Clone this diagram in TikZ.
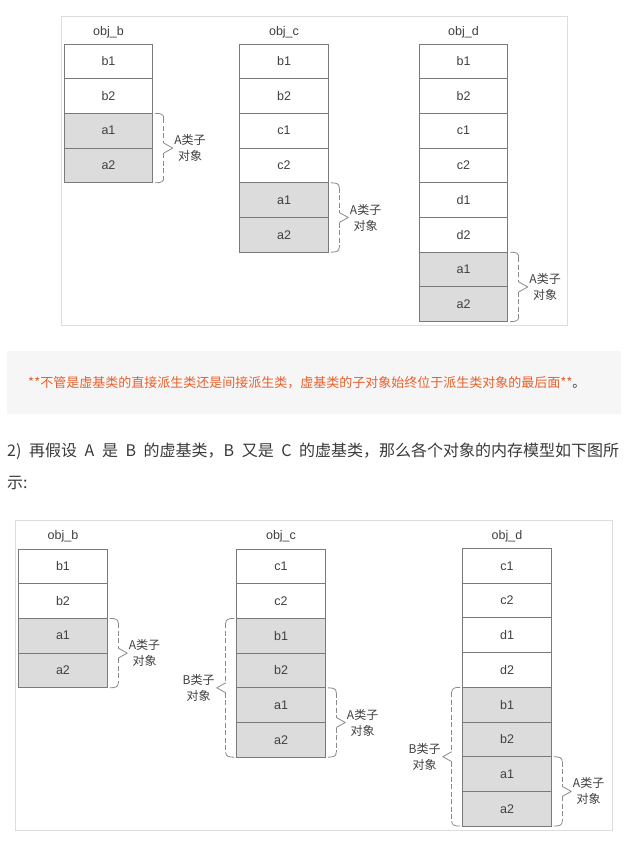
\documentclass[tikz,border=0pt]{standalone}
\usepackage{fontspec}
\setmainfont{Liberation Sans}
\newfontfamily\cjk{Noto Sans CJK SC}
\usetikzlibrary{calc}
\definecolor{framegray}{HTML}{DDDDDD}
\definecolor{cellborder}{HTML}{7A7A7A}
\definecolor{cellgray}{HTML}{DCDCDC}
\definecolor{celltext}{HTML}{404040}
\definecolor{bracegray}{HTML}{8A8A8A}
\definecolor{bannerbg}{HTML}{F6F6F6}
\definecolor{bannertext}{HTML}{E8602C}
\definecolor{paratext}{HTML}{3A3A3A}

\newcommand\objcol[4]{% #1 prefix, #2 x centre, #3 top y, #4 list text/fill
  \foreach \t/\f [count=\i from 0] in {#4}
    \node[cell, fill=\f] (#1\t) at (#2, {#3+17.35+\i*34.7}) {\t};}

\newcommand\bracer[4]{% right brace: #1 top node, #2 bottom node, #3 label name, #4 letter
  \coordinate (T) at ($(#1.north east)+(2.5,0)$);
  \coordinate (B) at ($(#2.south east)+(2.5,0)$);
  \coordinate (M) at ($(T)!0.5!(B)$);
  \draw[bracesolid] (T) .. controls ($(T)+(6,0)$) and ($(T)+(8.5,1)$) .. ($(T)+(8.5,5)$);
  \draw[bracedash] ($(T)+(8.5,5)$) -- ($(M)+(8.5,-5)$);
  \draw[bracesolid] ($(M)+(8.5,-5)$) -- ($(M)+(17.5,0)$) -- ($(M)+(8.5,5)$);
  \draw[bracedash] ($(M)+(8.5,5)$) -- ($(B)+(8.5,-5)$);
  \draw[bracesolid] ($(B)+(8.5,-5)$) .. controls ($(B)+(8.5,-1)$) and ($(B)+(6,0)$) .. (B);
  \node[blabel, anchor=west] (#3) at ($(M)+(19,0)$) {#4类子\\对象};}

\newcommand\bracel[4]{% left brace
  \coordinate (T) at ($(#1.north west)+(-2.5,0)$);
  \coordinate (B) at ($(#2.south west)+(-2.5,0)$);
  \coordinate (M) at ($(T)!0.5!(B)$);
  \draw[bracesolid] (T) .. controls ($(T)+(-6,0)$) and ($(T)+(-8.5,1)$) .. ($(T)+(-8.5,5)$);
  \draw[bracedash] ($(T)+(-8.5,5)$) -- ($(M)+(-8.5,-5)$);
  \draw[bracesolid] ($(M)+(-8.5,-5)$) -- ($(M)+(-17.5,0)$) -- ($(M)+(-8.5,5)$);
  \draw[bracedash] ($(M)+(-8.5,5)$) -- ($(B)+(-8.5,-5)$);
  \draw[bracesolid] ($(B)+(-8.5,-5)$) .. controls ($(B)+(-8.5,-1)$) and ($(B)+(-6,0)$) .. (B);
  \node[blabel, anchor=east] (#3) at ($(M)+(-19.5,0)$) {#4类子\\对象};}

\newcommand\widespaces{\spaceskip=7.6pt\relax}

\begin{document}
\begin{tikzpicture}[x=1pt,y=-1pt,
  cell/.style={draw=cellborder, line width=0.9pt, minimum width=88.5pt, minimum height=34.7pt,
    inner sep=0pt, outer sep=0pt, text=celltext, font=\fontsize{12.5}{14}\selectfont},
  title/.style={text=celltext, font=\fontsize{12.5}{14}\selectfont, inner sep=0pt},
  frame/.style={draw=framegray, line width=1pt},
  bracedash/.style={draw=bracegray, line width=0.8pt, dash pattern=on 5pt off 2.5pt},
  bracesolid/.style={draw=bracegray, line width=0.8pt, line join=round},
  blabel/.style={text=celltext, font=\cjk\fontsize{12}{16}\selectfont, align=center, inner sep=0pt},
  paranode/.style={anchor=west, inner sep=0pt, text=paratext, font=\cjk\fontsize{16}{20}\selectfont},
]
\useasboundingbox (0,0) rectangle (642,853);
\fill[white] (0,0) rectangle (642,853);

% ---------- top figure ----------
\draw[frame] (61,17) rectangle (567,325);
\node[title] (t1) at (108.5,32) {obj\_b};
\node[title] (t2) at (284,32) {obj\_c};
\node[title] (t3) at (463.5,32) {obj\_d};
\objcol{pb}{108.5}{44}{b1/white,b2/white,a1/cellgray,a2/cellgray}
\objcol{pc}{284}{44}{b1/white,b2/white,c1/white,c2/white,a1/cellgray,a2/cellgray}
\objcol{pd}{463.5}{44}{b1/white,b2/white,c1/white,c2/white,d1/white,d2/white,a1/cellgray,a2/cellgray}
\bracer{pba1}{pba2}{lpb}{A}
\bracer{pca1}{pca2}{lpc}{A}
\bracer{pda1}{pda2}{lpd}{A}

% ---------- banner ----------
\fill[bannerbg] (7,351) rectangle (621,414);
\node[anchor=west, inner sep=0pt, font=\cjk\fontsize{13}{16}\selectfont] (note) at (28,382.5)
  {\textcolor{bannertext}{**不管是虚基类的直接派生类还是间接派生类，虚基类的子对象始终位于派生类对象的最后面**}\textcolor{paratext}{。}};

% ---------- paragraph ----------
\node[paranode] (para1) at (7,451)
  {\widespaces 2) 再假设 A 是 B 的虚基类，B 又是 C 的虚基类，那么各个对象的内存模型如下图所};
\node[paranode] (para2) at (7,483) {示:};

% ---------- bottom figure ----------
\draw[frame] (15,520) rectangle (612,830);
\node[title] (s1) at (63,536) {obj\_b};
\node[title] (s2) at (281,536) {obj\_c};
\node[title] (s3) at (507,536) {obj\_d};
\objcol{qb}{63}{549}{b1/white,b2/white,a1/cellgray,a2/cellgray}
\objcol{qc}{281}{549}{c1/white,c2/white,b1/cellgray,b2/cellgray,a1/cellgray,a2/cellgray}
\objcol{qd}{507}{548.5}{c1/white,c2/white,d1/white,d2/white,b1/cellgray,b2/cellgray,a1/cellgray,a2/cellgray}
\bracer{qba1}{qba2}{lqb}{A}
\bracer{qca1}{qca2}{lqc}{A}
\bracel{qcb1}{qca2}{lqcb}{B}
\bracer{qda1}{qda2}{lqd}{A}
\bracel{qdb1}{qda2}{lqdb}{B}
\end{tikzpicture}
\end{document}
